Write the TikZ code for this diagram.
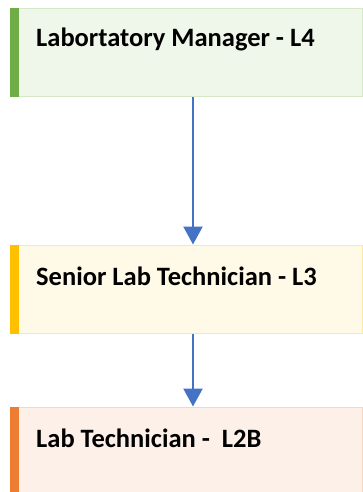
\documentclass[tikz,border=0pt]{standalone}
\usepackage{fontspec}
\setmainfont{Carlito}
\usetikzlibrary{arrows.meta}
\usetikzlibrary{positioning}
\definecolor{mgrbar}{HTML}{70AD47}
\definecolor{mgrfill}{HTML}{EFF6EA}
\definecolor{mgrline}{HTML}{D5E8C8}
\definecolor{srbar}{HTML}{FFC000}
\definecolor{srfill}{HTML}{FFF9E7}
\definecolor{srline}{HTML}{FFE8A6}
\definecolor{techbar}{HTML}{ED7D31}
\definecolor{techfill}{HTML}{FCF0E8}
\definecolor{techline}{HTML}{F8D5BF}
\definecolor{flowblue}{HTML}{4472C4}
\tikzset{level/.style={minimum width=352pt,minimum height=88pt,line width=1pt,inner sep=0pt},
  lbl/.style={anchor=west,inner sep=0pt,font=\fontsize{26.5}{30}\selectfont\bfseries},
  flow/.style={draw=flowblue,line width=2.5pt,-{Triangle[width=19pt,length=18pt]}}}

\begin{document}
\begin{tikzpicture}[x=1pt,y=1pt]
    \useasboundingbox (0,0) rectangle (363,-492);

    \node (mgr) [level, fill=mgrfill, draw=mgrline] at (186,-52.5) {};
    \node (senior) [level, below of=mgr, node distance=236.5pt, fill=srfill, draw=srline] {};
    \node (tech) [level, below of=senior, node distance=162pt, fill=techfill, draw=techline] {};

    % coloured bars on the left edge
    \fill[mgrbar] (mgr.north west) rectangle ([xshift=9pt]mgr.south west);
    \fill[srbar] (senior.north west) rectangle ([xshift=9pt]senior.south west);
    \fill[techbar] (tech.north west) rectangle ([xshift=9pt]tech.south west);

    \node (mgrlbl) [lbl] at ([xshift=26.5pt,yshift=13pt]mgr.west) {Labortatory Manager - L4};
    \node (srlbl) [lbl] at ([xshift=26.5pt,yshift=13pt]senior.west) {Senior Lab Technician - L3};
    \node (techlbl) [lbl] at ([xshift=26.5pt,yshift=12.5pt]tech.west) {Lab Technician -\ \ L2B};

    \draw[flow] ([xshift=7pt]mgr.south) -- ([xshift=7pt]senior.north);
    \draw[flow] ([xshift=7pt]senior.south) -- ([xshift=7pt]tech.north);
\end{tikzpicture}
\end{document}
